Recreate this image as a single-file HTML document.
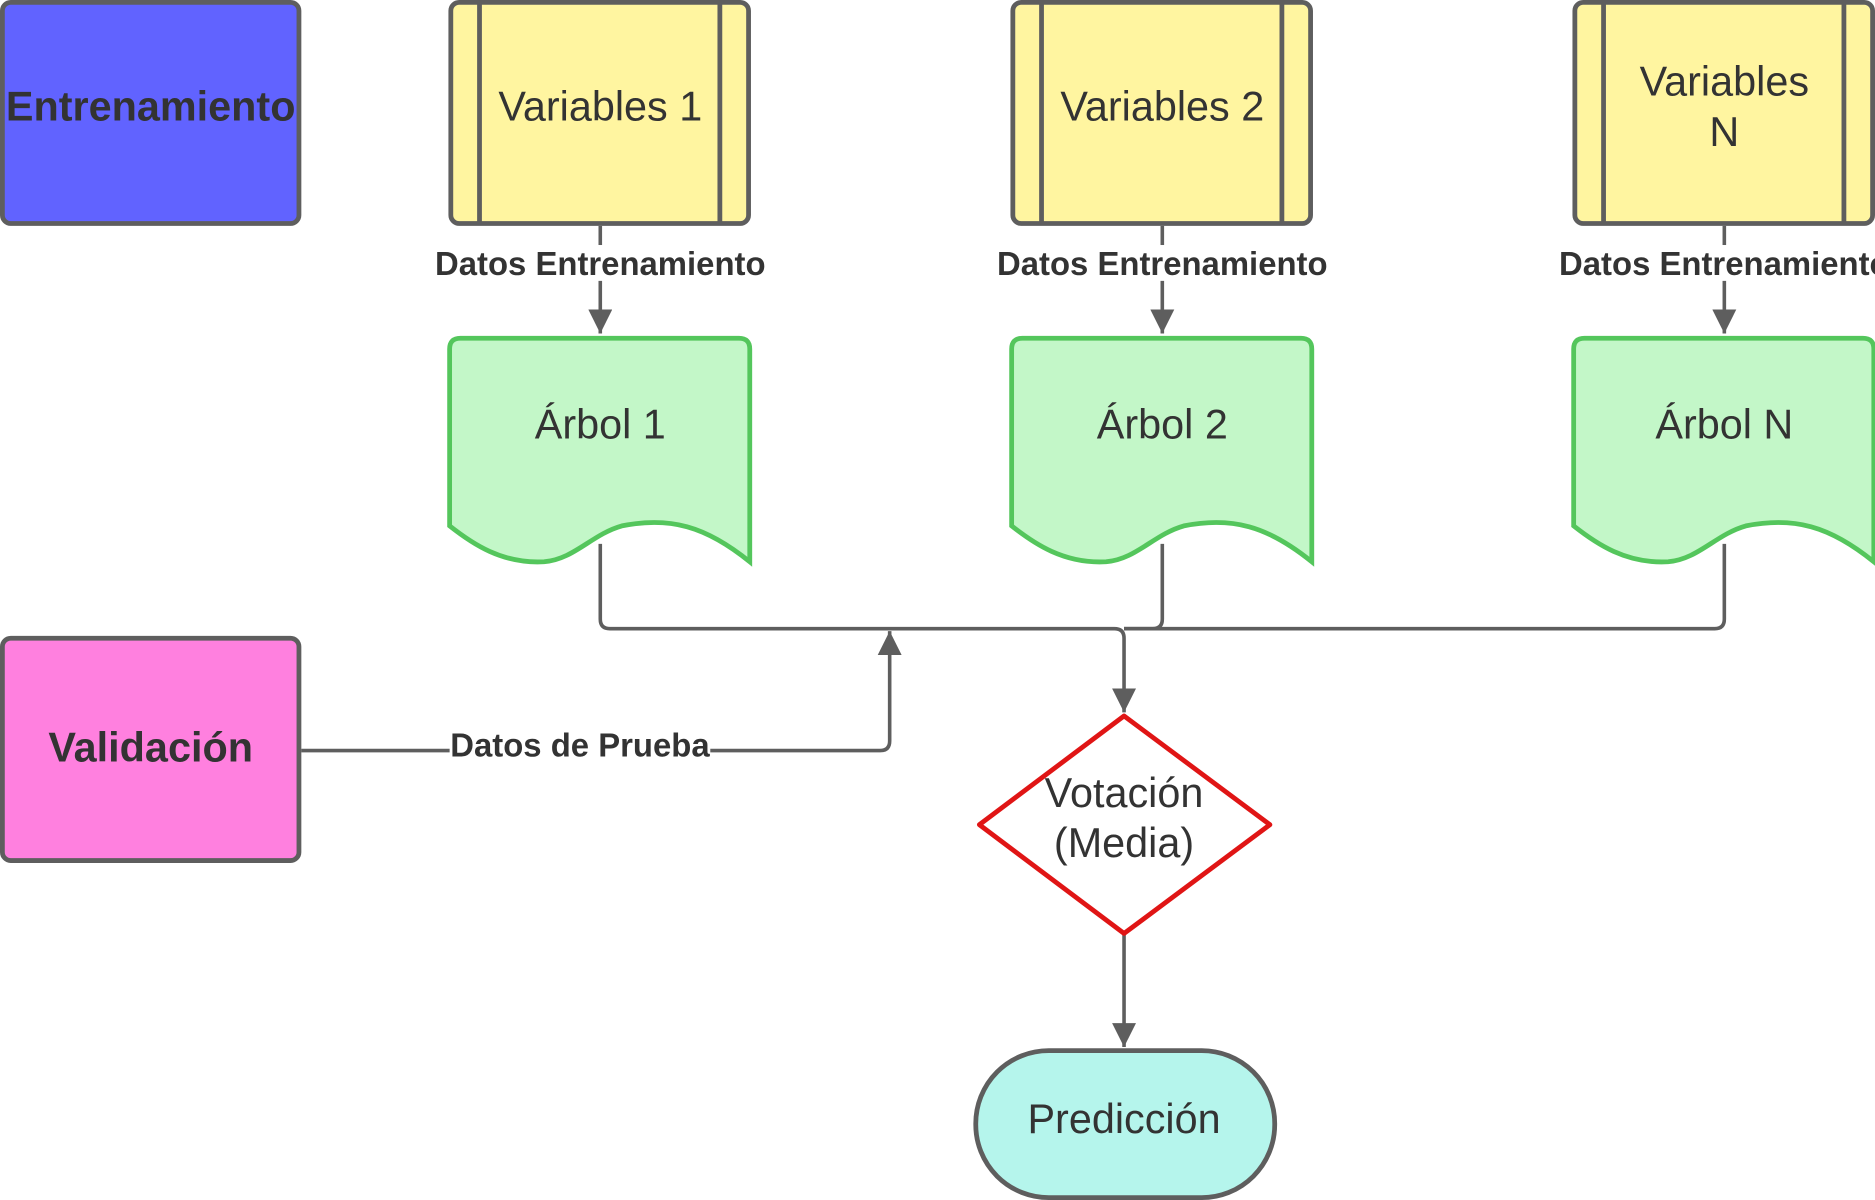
<!DOCTYPE html>
<html><head><meta charset="utf-8"><style>html,body{margin:0;padding:0;background:#fff;width:1875px;height:1200px;overflow:hidden}svg{display:block}</style></head>
<body>
<svg width="1875" height="1200" viewBox="0 0 1568 1004" preserveAspectRatio="none" xmlns="http://www.w3.org/2000/svg" font-family="Liberation Sans, sans-serif">
<defs>
<marker id="b" viewBox="0 0 10 10" refX="10" refY="5" markerWidth="22" markerHeight="20" orient="auto" markerUnits="userSpaceOnUse"><path d="M0,0 L10,5 L0,10z" fill="#5e5e5e"/></marker>
</defs>
<g stroke="#5e5e5e" stroke-width="4">
<rect x="2" y="2" width="248" height="185" rx="7" fill="#6163ff"/>
<rect x="2" y="534" width="248" height="186" rx="7" fill="#ff80df"/>
<g fill="#fff5a0">
<rect x="377" y="2" width="249" height="185" rx="7"/>
<rect x="847" y="2" width="249" height="185" rx="7"/>
<rect x="1317" y="2" width="249" height="185" rx="7"/>
</g>
<path d="M401,2V187M602,2V187M871,2V187M1072,2V187M1341,2V187M1542,2V187" fill="none"/>
</g>
<g fill="#c3f7c8" stroke="#54c65c" stroke-width="4">
<path d="M376,292 Q376,283 385,283 H618 Q627,283 627,292 V470 C590,440 560,432 520,440 C495,447 480,468 455,470 C420,472 395,455 376,440 Z"/>
<path transform="translate(470,0)" d="M376,292 Q376,283 385,283 H618 Q627,283 627,292 V470 C590,440 560,432 520,440 C495,447 480,468 455,470 C420,472 395,455 376,440 Z"/>
<path transform="translate(940,0)" d="M376,292 Q376,283 385,283 H618 Q627,283 627,292 V470 C590,440 560,432 520,440 C495,447 480,468 455,470 C420,472 395,455 376,440 Z"/>
</g>
<g stroke="#5e5e5e" stroke-width="3" fill="none">
<path d="M502,189V279" marker-end="url(#b)"/>
<path d="M972,189V279" marker-end="url(#b)"/>
<path d="M1442,189V279" marker-end="url(#b)"/>
<path d="M502,455V518Q502,526 510,526H932Q940,526 940,534V596" marker-end="url(#b)"/>
<path d="M972,455V518Q972,526 964,526H940"/>
<path d="M1442,455V518Q1442,526 1434,526H940"/>
<path d="M252,628H736Q744,628 744,620V528" marker-end="url(#b)"/>
<path d="M940,782V876" marker-end="url(#b)"/>
</g>
<path d="M940,599 L1062,690 L940,781 L819,690 Z" fill="#fff" stroke="#e01515" stroke-width="4" stroke-linejoin="round"/>
<rect x="816" y="879" width="250" height="123" rx="61" fill="#b5f5ec" stroke="#5e5e5e" stroke-width="4"/>
<g fill="#fff"><rect x="362" y="205" width="280" height="30"/><rect x="832" y="205" width="280" height="30"/><rect x="1302" y="205" width="266" height="30"/><rect x="376" y="610" width="218" height="30"/></g>
<g fill="#333" font-size="34.6" text-anchor="middle">
<text x="126" y="101" font-weight="bold">Entrenamiento</text>
<text x="126" y="637" font-weight="bold">Validación</text>
<text x="502" y="101">Variables 1</text>
<text x="972" y="101">Variables 2</text>
<text x="1442" y="80">Variables</text>
<text x="1442" y="122">N</text>
<text x="502" y="367">Árbol 1</text>
<text x="972" y="367">Árbol 2</text>
<text x="1442" y="367">Árbol N</text>
<text x="940" y="675">Votación</text>
<text x="940" y="717">(Media)</text>
<text x="940" y="948">Predicción</text>
</g>
<g fill="#333" font-size="27.5" font-weight="bold" text-anchor="middle">
<text x="502" y="230">Datos Entrenamiento</text>
<text x="972" y="230">Datos Entrenamiento</text>
<text x="1442" y="230">Datos Entrenamiento</text>
<text x="485" y="633">Datos de Prueba</text>
</g>
</svg>
</body></html>
